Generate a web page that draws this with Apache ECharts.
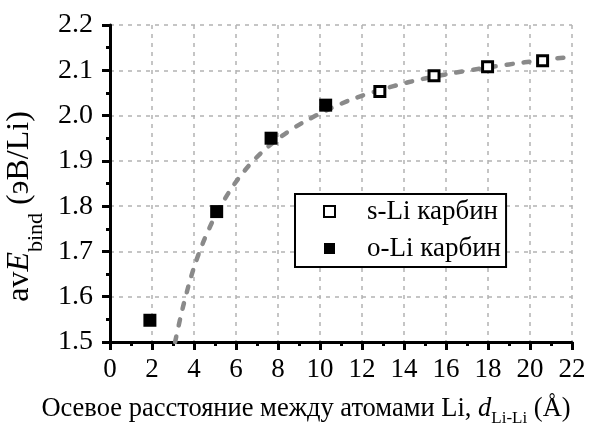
<!DOCTYPE html>
<html>
<head>
<meta charset="utf-8">
<script src="https://cdn.jsdelivr.net/npm/echarts@6/dist/echarts.min.js"></script>
<style>
  html, body { margin: 0; padding: 0; background: #fff; }
  #chart { width: 589px; height: 423px; }
</style>
</head>
<body>
<div id="chart"></div>
<script>
// Axial Li–Li distance (Å) and average binding energy (eV/Li)
const oLiDist = [1.9, 5.08, 7.67, 10.27];
const oLiEnergy = [1.548, 1.788, 1.950, 2.023];

const sLiDist = [12.85, 15.43, 17.98, 20.6];
const sLiEnergy = [2.053, 2.088, 2.108, 2.121];

// Trend curve through the data (hand-read nodes)
const fitDist = [3.1, 3.35, 3.6, 3.9, 4.25, 4.65, 5.1, 5.6, 6.1, 6.8, 7.7, 8.7, 9.8, 11.0, 12.2, 13.5, 15.0, 17.0, 19.0, 20.5, 22.0];
const fitEnergy = [1.50, 1.553, 1.600, 1.650, 1.698, 1.743, 1.786, 1.826, 1.860, 1.899, 1.938, 1.971, 2.000, 2.026, 2.047, 2.065, 2.082, 2.099, 2.113, 2.122, 2.130];

const xTicks = [0, 2, 4, 6, 8, 10, 12, 14, 16, 18, 20, 22];
const yTicks = [1.5, 1.6, 1.7, 1.8, 1.9, 2.0, 2.1, 2.2];

const legendNames = ['s-Li карбин', 'o-Li карбин'];

const FONT = '"Liberation Serif", "DejaVu Serif", serif';

const pairs = (xs, ys) => xs.map((x, i) => [x, ys[i]]);

const splitStyle = { color: '#b3b3b3', width: 1.5, type: [4, 5] };

const chart = echarts.init(document.getElementById('chart'), null, { renderer: 'canvas' });

chart.setOption({
  backgroundColor: '#ffffff',
  animation: false,
  grid: { left: 110, right: 17, top: 25, bottom: 81, containLabel: false, outerBoundsMode: 'none' },
  legend: {
    orient: 'vertical',
    left: 295,
    top: 194,
    backgroundColor: '#ffffff',
    borderColor: '#000000',
    borderWidth: 2,
    borderRadius: 0,
    padding: [4, 5, 5, 28],
    itemGap: 10,
    itemWidth: 11,
    itemHeight: 11,
    textStyle: { fontFamily: FONT, fontSize: 27, color: '#000', padding: [0, 0, 0, 27] },
    data: legendNames
  },
  xAxis: {
    type: 'value',
    min: xTicks[0],
    max: xTicks[xTicks.length - 1],
    interval: 2,
    name: '{n|Осевое расстояние между атомами Li, }{i|d}{s|Li-Li}{n| (Å)}',
    nameLocation: 'middle',
    nameGap: 49,
    nameTextStyle: {
      fontFamily: FONT,
      fontSize: 26.5,
      color: '#000',
      padding: [0, 70, 0, 0],
      rich: {
        n: { fontFamily: FONT, fontSize: 26.5, color: '#000' },
        i: { fontFamily: FONT, fontSize: 26.5, fontStyle: 'italic', color: '#000' },
        s: { fontFamily: FONT, fontSize: 17, color: '#000', padding: [19, 0, 0, 0] }
      }
    },
    axisLine: { show: true, onZero: false, lineStyle: { color: '#000', width: 3 } },
    axisTick: { show: true, inside: false, length: 8, lineStyle: { color: '#000', width: 3 } },
    minorTick: { show: true, splitNumber: 2, length: 4, lineStyle: { color: '#000', width: 3 } },
    axisLabel: { fontFamily: FONT, fontSize: 27, color: '#000', margin: 14 },
    splitLine: { show: true, lineStyle: splitStyle }
  },
  yAxis: {
    type: 'value',
    min: yTicks[0],
    max: yTicks[yTicks.length - 1],
    interval: 0.1,
    name: '{n|av}{i|E}{s|bind}{n| (эВ/Li)}',
    nameLocation: 'middle',
    nameRotate: 90,
    nameGap: 50,
    nameTextStyle: {
      fontFamily: FONT,
      fontSize: 32,
      color: '#000',
      padding: [0, 46, 0, 0],
      rich: {
        n: { fontFamily: FONT, fontSize: 32, color: '#000' },
        i: { fontFamily: FONT, fontSize: 32, fontStyle: 'italic', color: '#000' },
        s: { fontFamily: FONT, fontSize: 22, color: '#000', padding: [34, 0, 0, 0] }
      }
    },
    axisLine: { show: true, onZero: false, lineStyle: { color: '#000', width: 3 } },
    axisTick: { show: true, inside: false, length: 8, lineStyle: { color: '#000', width: 3 } },
    minorTick: { show: true, splitNumber: 2, length: 4, lineStyle: { color: '#000', width: 3 } },
    axisLabel: {
      fontFamily: FONT, fontSize: 28, color: '#000', margin: 17,
      formatter: v => v.toFixed(1)
    },
    splitLine: { show: true, lineStyle: splitStyle }
  },
  series: [
    {
      name: 'fit',
      type: 'line',
      data: pairs(fitDist, fitEnergy),
      smooth: 0.35,
      showSymbol: false,
      symbol: 'none',
      clip: true,
      lineStyle: { color: '#8a8a8a', width: 4.5, type: [6, 11], cap: 'round' },
      z: 2
    },
    {
      name: legendNames[1],
      type: 'scatter',
      data: pairs(oLiDist, oLiEnergy),
      symbol: 'rect',
      symbolSize: 13,
      itemStyle: { color: '#000', opacity: 1 },
      z: 3
    },
    {
      name: legendNames[0],
      type: 'scatter',
      data: pairs(sLiDist, sLiEnergy),
      symbol: 'rect',
      symbolSize: 10,
      itemStyle: { color: '#fff', borderColor: '#000', borderWidth: 3, opacity: 1 },
      z: 3
    }
  ]
});
</script>
</body>
</html>
